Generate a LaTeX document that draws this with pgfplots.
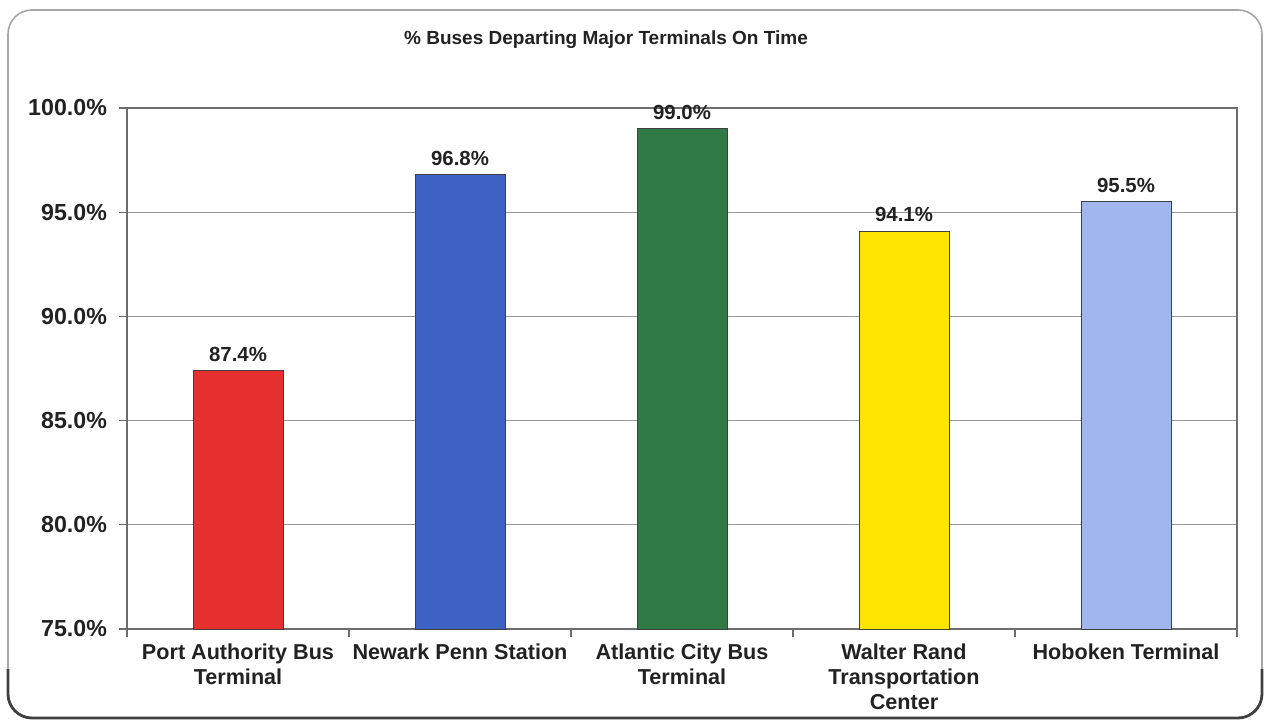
\documentclass[border=0pt]{standalone}
\usepackage{pgfplots}
\pgfplotsset{compat=1.18}
\usepackage{fontspec}
\setmainfont{Liberation Sans}

\definecolor{barred}{HTML}{E63030}
\definecolor{barblue}{HTML}{3E62C4}
\definecolor{bargreen}{HTML}{2F7A45}
\definecolor{baryellow}{HTML}{FFE400}
\definecolor{barlight}{HTML}{A0B6EC}
\definecolor{txt}{HTML}{222222}

\begin{document}
\begin{tikzpicture}
\path[use as bounding box] (-63.5pt,-48pt) rectangle (569pt,314.5pt);
\begin{axis}[
    at={(0pt,0pt)}, anchor=south west,
    scale only axis,
    width=555pt, height=260.5pt,
    ybar, bar width=45pt, bar shift=0pt,
    xmin=-0.5, xmax=4.5,
    ymin=75, ymax=100,
    ytick={75,80,...,100},
    xtick={-0.5,0.5,...,4.5},
    x tick label as interval,
    xtick pos=bottom, ytick pos=left,
    xticklabels={{Port Authority Bus\\Terminal},{Newark Penn Station},{Atlantic City Bus\\Terminal},{Walter Rand\\Transportation\\Center},{Hoboken Terminal}},
    ymajorgrids,
    grid style={gray!80, line width=0.5pt},
    axis line style={gray!85!black, line width=0.6pt},
    tick style={gray!85!black, line width=0.6pt},
    tick align=outside,
    major tick length=4pt,
    /pgf/number format/assume math mode=true,
    yticklabel={\pgfmathprintnumber[fixed,fixed zerofill,precision=1]{\tick}\%},
    yticklabel style={font=\fontsize{11.6}{13}\selectfont\bfseries, text=txt, xshift=-2.5pt},
    xticklabel style={font=\fontsize{10.8}{12.5}\selectfont\bfseries, text=txt, align=center},
    nodes near coords={\pgfmathprintnumber[fixed,fixed zerofill,precision=1]{\pgfplotspointmeta}\%},
    nodes near coords style={font=\fontsize{10.2}{12}\selectfont\bfseries, text=txt, yshift=1pt},
]
\addplot[fill=barred, draw=black!75] coordinates {(0,87.4)};
\addplot[fill=barblue, draw=black!75] coordinates {(1,96.8)};
\addplot[fill=bargreen, draw=black!75] coordinates {(2,99.0)};
\addplot[fill=baryellow, draw=black!75] coordinates {(3,94.1)};
\addplot[fill=barlight, draw=black!75] coordinates {(4,95.5)};
\end{axis}
\node[font=\fontsize{9.5}{11}\selectfont\bfseries, text=txt] at (239.5pt,294.5pt) {\% Buses Departing Major Terminals On Time};
\draw[gray!70, line width=0.8pt, rounded corners=12pt] (-59.5pt,-44.5pt) rectangle (567.5pt,309.5pt);
\draw[gray!50!black, line width=1.4pt, rounded corners=12pt] (-59.5pt,-20pt) -- (-59.5pt,-44.5pt) -- (567.5pt,-44.5pt) -- (567.5pt,-20pt);
\end{tikzpicture}
\end{document}
